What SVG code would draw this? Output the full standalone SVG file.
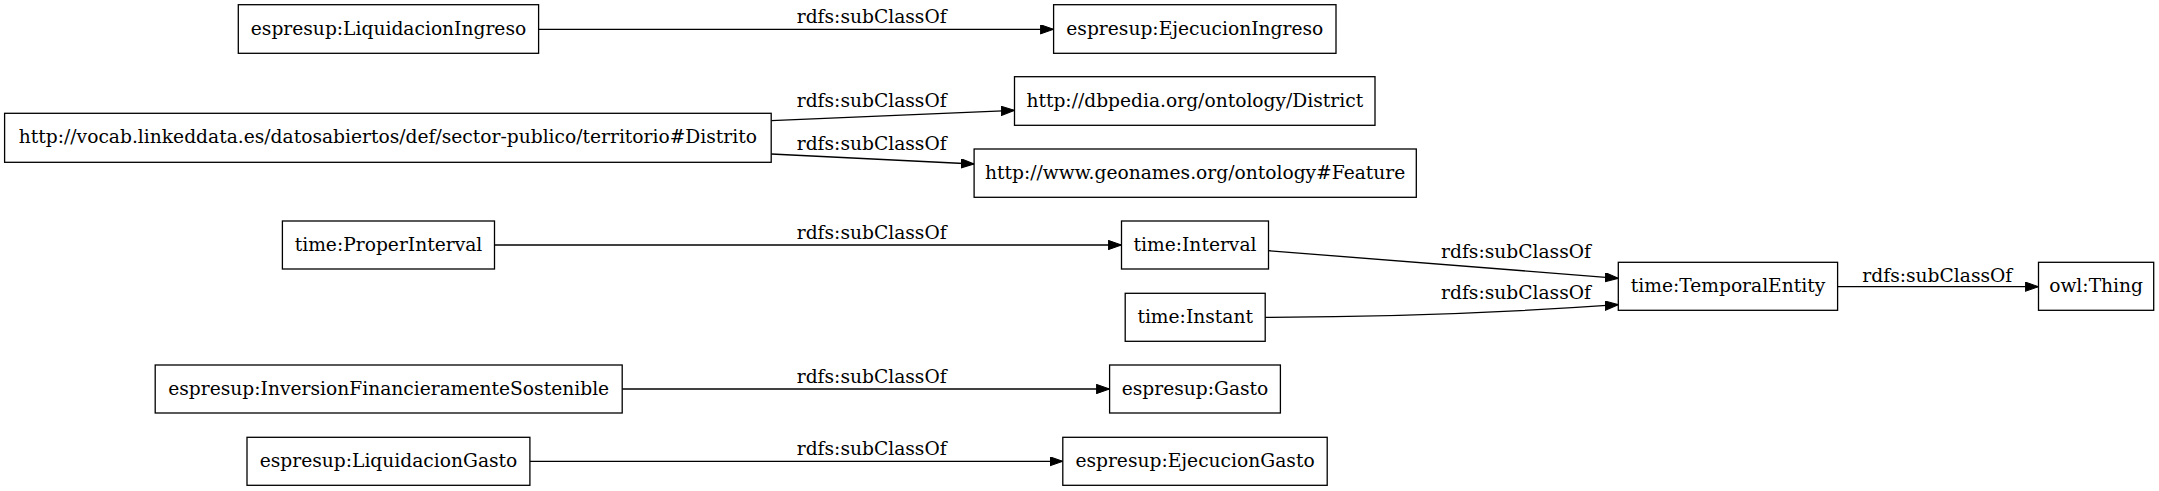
<svg xmlns="http://www.w3.org/2000/svg" width="2159" height="491" viewBox="0 0 2159 491">
<style>
  .node rect { fill: #ffffff; stroke: #000000; stroke-width: 1.3; }
  text { font-family: "DejaVu Serif", "Liberation Serif", serif; font-size: 18.67px; fill: #000000; text-anchor: middle; }
  .edge { fill: none; stroke: #000000; stroke-width: 1.3; marker-end: url(#arrow); }
</style>
<defs>
  <marker id="arrow" markerUnits="userSpaceOnUse" markerWidth="14" markerHeight="10" refX="13.3" refY="4.67" orient="auto">
    <path d="M0,0 L13.3,4.67 L0,9.33 Z" fill="#000000" stroke="#000000" stroke-width="1"/>
  </marker>
</defs>
<rect width="2159" height="491" fill="#ffffff"/>
<g id="connectors">
  <path class="edge" d="M538.6,29.3 L1053.6,29.3"/>
  <text x="871.7" y="22.7">rdfs:subClassOf</text>
  <path class="edge" d="M771.2,120.7 L1014.5,110.3"/>
  <text x="871.7" y="107.3">rdfs:subClassOf</text>
  <path class="edge" d="M771.2,154 L974.1,164"/>
  <text x="871.7" y="150">rdfs:subClassOf</text>
  <path class="edge" d="M494.5,245 L1121.5,245"/>
  <text x="871.7" y="239.3">rdfs:subClassOf</text>
  <path class="edge" d="M1268.5,250.7 L1618.3,278.3"/>
  <text x="1516" y="258.3">rdfs:subClassOf</text>
  <path class="edge" d="M1265.2,317.3 C1380,317 1500,313 1618.3,304.7"/>
  <text x="1516" y="299">rdfs:subClassOf</text>
  <path class="edge" d="M1837.6,286.7 L2038.5,286.7"/>
  <text x="1937.3" y="281.7">rdfs:subClassOf</text>
  <path class="edge" d="M622.2,389 L1109.6,389"/>
  <text x="871.7" y="383.3">rdfs:subClassOf</text>
  <path class="edge" d="M529.9,461.3 L1062.8,461.3"/>
  <text x="871.7" y="455.3">rdfs:subClassOf</text>
</g>
<g id="node-LiquidacionIngreso" class="node">
  <rect x="238.3" y="4.7" width="300.3" height="48.6"/>
  <text x="388.5" y="34.6">espresup:LiquidacionIngreso</text>
</g>
<g id="node-EjecucionIngreso" class="node">
  <rect x="1053.6" y="4.7" width="282.4" height="48.6"/>
  <text x="1194.8" y="34.6">espresup:EjecucionIngreso</text>
</g>
<g id="node-Distrito" class="node">
  <rect x="4.6" y="113.3" width="766.6" height="49"/>
  <text x="387.9" y="143.4">http://vocab.linkeddata.es/datosabiertos/def/sector-publico/territorio#Distrito</text>
</g>
<g id="node-District" class="node">
  <rect x="1014.5" y="76.7" width="360.5" height="48.6"/>
  <text x="1194.8" y="106.6">http://dbpedia.org/ontology/District</text>
</g>
<g id="node-Feature" class="node">
  <rect x="974.1" y="149" width="442.2" height="48.3"/>
  <text x="1195.2" y="178.8">http://www.geonames.org/ontology#Feature</text>
</g>
<g id="node-ProperInterval" class="node">
  <rect x="282.4" y="221" width="212.1" height="48"/>
  <text x="388.5" y="250.6">time:ProperInterval</text>
</g>
<g id="node-Interval" class="node">
  <rect x="1121.5" y="221" width="147" height="48"/>
  <text x="1195" y="250.6">time:Interval</text>
</g>
<g id="node-Instant" class="node">
  <rect x="1125.2" y="293.3" width="140" height="48"/>
  <text x="1195.2" y="322.9">time:Instant</text>
</g>
<g id="node-TemporalEntity" class="node">
  <rect x="1618.3" y="262.3" width="219.3" height="48"/>
  <text x="1728" y="291.9">time:TemporalEntity</text>
</g>
<g id="node-Thing" class="node">
  <rect x="2038.5" y="262.3" width="115.2" height="48"/>
  <text x="2096.1" y="291.9">owl:Thing</text>
</g>
<g id="node-InversionFinancieramenteSostenible" class="node">
  <rect x="155.2" y="365" width="467" height="48"/>
  <text x="388.7" y="394.6">espresup:InversionFinancieramenteSostenible</text>
</g>
<g id="node-Gasto" class="node">
  <rect x="1109.6" y="365" width="170.8" height="48"/>
  <text x="1195" y="394.6">espresup:Gasto</text>
</g>
<g id="node-LiquidacionGasto" class="node">
  <rect x="247" y="437.3" width="282.9" height="48"/>
  <text x="388.5" y="466.9">espresup:LiquidacionGasto</text>
</g>
<g id="node-EjecucionGasto" class="node">
  <rect x="1062.8" y="437.3" width="264.4" height="48"/>
  <text x="1195" y="466.9">espresup:EjecucionGasto</text>
</g>
</svg>
